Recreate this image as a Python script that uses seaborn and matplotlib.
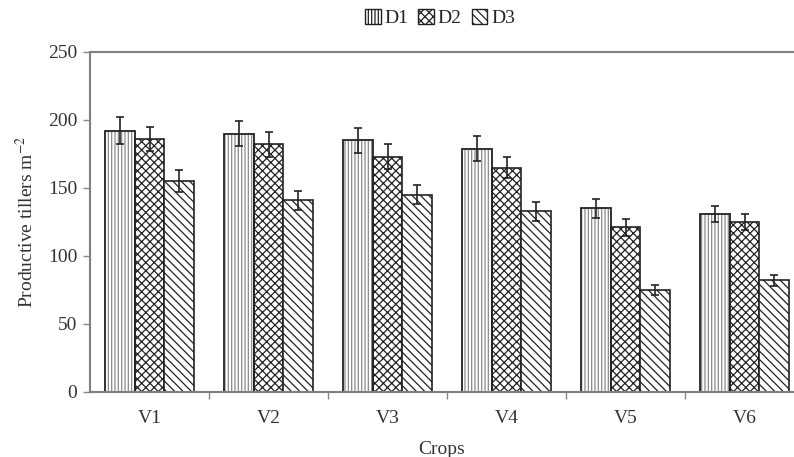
import matplotlib
matplotlib.use("Agg")
import matplotlib.pyplot as plt
import seaborn as sns
import pandas as pd
from matplotlib.patches import Patch, Rectangle

crops = ["V1", "V2", "V3", "V4", "V5", "V6"]
doses = ["D1", "D2", "D3"]
d1 = [192, 190, 185, 179, 135, 131]
d2 = [186, 182, 173, 165, 121, 125]
d3 = [155, 141, 145, 133, 75, 82]
d1_err = [10, 9, 9, 9, 7, 6]
d2_err = [9, 9, 9, 8, 6, 6]
d3_err = [8, 7, 7, 7, 4, 4]

values = {"D1": d1, "D2": d2, "D3": d3}
errors = {"D1": d1_err, "D2": d2_err, "D3": d3_err}

df = pd.DataFrame(
    [(c, d, values[d][i]) for d in doses for i, c in enumerate(crops)],
    columns=["Crops", "Dose", "Tillers"],
)

sns.set_style("white")
plt.rcParams["font.family"] = ["Liberation Serif", "DejaVu Serif"]
plt.rcParams["hatch.linewidth"] = 0.9
plt.rcParams["mathtext.fontset"] = "stix"

fig = plt.figure(figsize=(7.94, 4.57), dpi=100)
ax = fig.add_axes([90 / 794, 65 / 457, 704 / 794, 340 / 457])

sns.barplot(
    data=df, x="Crops", y="Tillers", hue="Dose", order=crops, hue_order=doses,
    palette=["white"] * 3, errorbar=None, width=0.756, edgecolor="#222222",
    linewidth=1.2, legend=False, ax=ax, saturation=1,
)

hatches = {"D1": "|||||", "D2": "xxxx", "D3": "\\\\\\\\"}
hatch_colors = {"D1": "#8a8a8a", "D2": "#222222", "D3": "#222222"}

for dose, container in zip(doses, ax.containers):
    xs = []
    for bar in container:
        bar.set_hatch(hatches[dose])
        if hatch_colors[dose] != "#222222":
            # lighter hatch lines, with a dark outline drawn on top
            bar.set_edgecolor(hatch_colors[dose])
            ax.add_patch(Rectangle(bar.get_xy(), bar.get_width(), bar.get_height(),
                                   fill=False, edgecolor="#222222", linewidth=1.2,
                                   zorder=bar.get_zorder() + 0.1))
        xs.append(bar.get_x() + bar.get_width() / 2)
    ax.errorbar(xs, values[dose], yerr=errors[dose], fmt="none",
                ecolor="#222222", elinewidth=1.2, capsize=3, capthick=1.2,
                zorder=5)

ax.set_ylim(0, 250)
ax.set_yticks([0, 50, 100, 150, 200, 250])
ax.set_xlim(-0.5, 5.5 - 10 / 119)

# category boundary ticks below the axis
ax.set_xticks(range(len(crops)))
ax.set_xticklabels(crops)
ax.set_xticks([i + 0.5 for i in range(len(crops) - 1)], minor=True)
ax.tick_params(axis="x", which="major", length=0, pad=13, labelsize=14)
ax.tick_params(axis="x", which="minor", length=5, width=1, color="#888888",
               direction="out", bottom=True)
ax.tick_params(axis="y", length=5, width=1, color="#888888", direction="out",
               left=True, labelsize=14, pad=4, labelcolor="#333333")
ax.tick_params(axis="x", labelcolor="#333333")

for side in ["left", "top", "bottom"]:
    ax.spines[side].set_visible(True)
    ax.spines[side].set_color("#808080")
    ax.spines[side].set_linewidth(1.5)
ax.spines["right"].set_visible(False)

ax.set_xlabel("Crops", fontsize=14, color="#333333", labelpad=10)
ax.set_ylabel(r"Productive tillers m$^{-2}$", fontsize=14, color="#333333",
              labelpad=8)

handles = [
    Patch(facecolor="white", edgecolor="#222222", hatch=hatches[d], label=d)
    for d in doses
]
fig.legend(handles=handles, loc="center", bbox_to_anchor=(440 / 794, 1 - 18 / 457),
           ncol=3, frameon=False, fontsize=14, handlelength=0.8, handleheight=0.8,
           handletextpad=0.2, columnspacing=0.5, labelcolor="#222222")

fig.savefig("out.png", dpi=100)
